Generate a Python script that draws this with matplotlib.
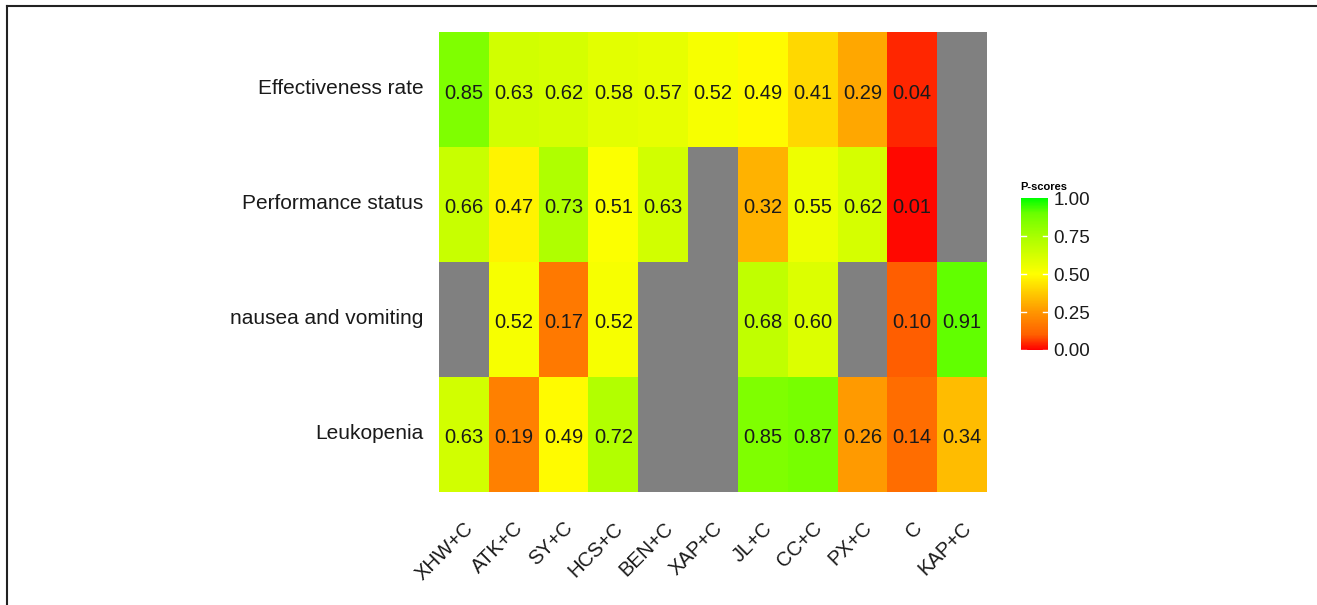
import numpy as np
import matplotlib
matplotlib.use("Agg")
import matplotlib.pyplot as plt
from matplotlib.colors import LinearSegmentedColormap
from matplotlib.lines import Line2D

plt.rcParams['font.family'] = ['Liberation Sans', 'DejaVu Sans']

treatments = ["XHW+C", "ATK+C", "SY+C", "HCS+C", "BEN+C", "XAP+C",
              "JL+C", "CC+C", "PX+C", "C", "KAP+C"]
outcomes = ["Effectiveness rate", "Performance status",
            "nausea and vomiting", "Leukopenia"]
nan = np.nan
effectiveness = [0.85, 0.63, 0.62, 0.58, 0.57, 0.52, 0.49, 0.41, 0.29, 0.04, nan]
performance = [0.66, 0.47, 0.73, 0.51, 0.63, nan, 0.32, 0.55, 0.62, 0.01, nan]
nausea = [nan, 0.52, 0.17, 0.52, nan, nan, 0.68, 0.60, nan, 0.10, 0.91]
leukopenia = [0.63, 0.19, 0.49, 0.72, nan, nan, 0.85, 0.87, 0.26, 0.14, 0.34]

scores = np.array([effectiveness, performance, nausea, leukopenia])

cmap = LinearSegmentedColormap.from_list("pscore", [
    (0.0, "#FF0000"), (0.1, "#FF6000"), (0.25, "#FF9600"),
    (0.5, "#FFFF00"), (0.75, "#A8FF00"), (0.9, "#6BFF00"),
    (1.0, "#00FF00")])
cmap.set_bad("#808080")

fig = plt.figure(figsize=(13.17, 6.05), dpi=100)
ax = fig.add_axes([0.3333, 0.1868, 0.4161, 0.7602])
mesh = ax.pcolormesh(np.ma.masked_invalid(scores), cmap=cmap, vmin=0, vmax=1)
ax.set_ylim(len(outcomes), 0)
ax.set_xlim(0, len(treatments))

for i in range(len(outcomes)):
    for j in range(len(treatments)):
        v = scores[i, j]
        if not np.isnan(v):
            ax.text(j + 0.5, i + 0.53, f"{v:.2f}", ha="center", va="center",
                    fontsize=14.5, color="#1a1a1a")

ax.set_xticks(np.arange(len(treatments)) + 0.5)
ax.set_xticklabels(treatments, rotation=45, ha="right", va="top",
                   rotation_mode="anchor", fontsize=14.5, color="#1a1a1a")
ax.set_yticks(np.arange(len(outcomes)) + 0.47)
ax.set_yticklabels(outcomes, fontsize=15, color="#1a1a1a")
ax.tick_params(axis="x", length=0, pad=19)
ax.tick_params(axis="y", length=0, pad=11)
for s in ax.spines.values():
    s.set_visible(False)

cax = fig.add_axes([0.7752, 0.4215, 0.0205, 0.251])
cb = fig.colorbar(mesh, cax=cax, ticks=[0, 0.25, 0.5, 0.75, 1.0])
cb.outline.set_visible(False)
cb.ax.set_yticklabels(["0.00", "0.25", "0.50", "0.75", "1.00"], fontsize=13.5,
                      color="#1a1a1a")
cb.ax.tick_params(length=0, pad=4)
for t in [0.0, 0.25, 0.5, 0.75]:
    cax.plot([0, 0.2], [t, t], color="white", lw=1, transform=cax.get_yaxis_transform())
    cax.plot([0.8, 1.0], [t, t], color="white", lw=1, transform=cax.get_yaxis_transform())
fig.text(0.7745, 0.683, "P-scores", fontsize=8, fontweight="bold", ha="left", va="bottom")

fig.add_artist(Line2D([0.005, 1.0], [0.99, 0.99], color="#222222", lw=1.5,
                      transform=fig.transFigure))
fig.add_artist(Line2D([0.005, 0.005], [0.0, 0.99], color="#222222", lw=1.5,
                      transform=fig.transFigure))

fig.savefig("out.png", dpi=100)
